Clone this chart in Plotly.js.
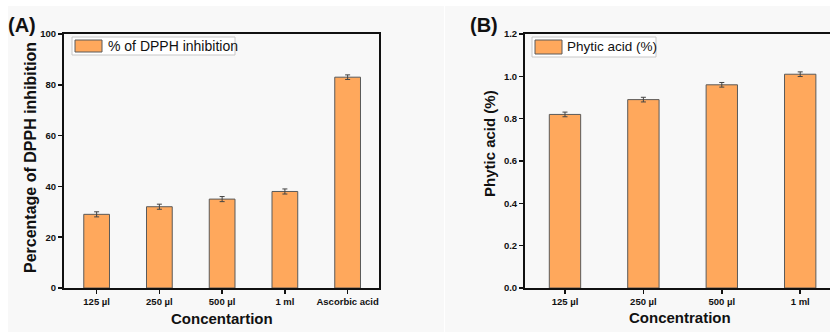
<!DOCTYPE html>
<html>
<head>
<meta charset="utf-8">
<script src="https://cdn.plot.ly/plotly-3.0.1.min.js"></script>
<style>html,body{margin:0;padding:0;background:#fff;}#chart{width:830px;height:332px;}</style>
</head>
<body>
<div id="chart"></div>
<script>
// ---- data ----
const catsA = ["125 µl", "250 µl", "500 µl", "1 ml", "Ascorbic acid"];
const valsA = [29, 32, 35, 38, 83];
const errA = [1, 1, 1, 1, 0.9];
const catsB = ["125 µl", "250 µl", "500 µl", "1 ml"];
const valsB = [0.82, 0.89, 0.96, 1.01];
const errB = [0.011, 0.011, 0.011, 0.011];
const ticksA = [0, 20, 40, 60, 80, 100];
const ticksB = [0, 0.2, 0.4, 0.6, 0.8, 1.0, 1.2];
const ticksBText = ["0.0", "0.2", "0.4", "0.6", "0.8", "1.0", "1.2"];

const W = 830, H = 332;
const px = x => x / W;
const py = y => 1 - y / H;

const barColor = "#ffa85c";
const edge = "#5a5a5a";
const font = "Liberation Sans, Arial, sans-serif";

const traceA = {
  type: "bar", x: catsA, y: valsA, xaxis: "x", yaxis: "y",
  width: 0.41,
  marker: {color: barColor, line: {color: edge, width: 1}},
  error_y: {type: "data", array: errA, visible: true, color: "#444", thickness: 1, width: 2.5},
  showlegend: false, hoverinfo: "none"
};
const traceB = {
  type: "bar", x: catsB, y: valsB, xaxis: "x2", yaxis: "y2",
  width: 0.40,
  marker: {color: barColor, line: {color: edge, width: 1}},
  error_y: {type: "data", array: errB, visible: true, color: "#444", thickness: 1, width: 2.5},
  showlegend: false, hoverinfo: "none"
};

const tickFont = {family: font, size: 9.5, color: "#111", weight: "bold"};
const axCommon = {
  showline: true, linecolor: "#111", linewidth: 2,
  ticks: "outside", ticklen: 4, tickwidth: 1.5, tickcolor: "#111",
  showgrid: false, zeroline: false, tickfont: tickFont, fixedrange: true
};

const layout = {
  width: W, height: H,
  margin: {l: 0, r: 0, t: 0, b: 0},
  paper_bgcolor: "#ffffff",
  plot_bgcolor: "rgba(0,0,0,0)",
  xaxis: Object.assign({}, axCommon, {
    domain: [px(64), px(379)], anchor: "y", type: "category",
    range: [-0.52, 4.5], mirror: true
  }),
  yaxis: Object.assign({}, axCommon, {
    domain: [py(288), py(34)], anchor: "x",
    range: [0, 100], tickvals: ticksA, mirror: true
  }),
  xaxis2: Object.assign({}, axCommon, {
    domain: [px(525), 1], anchor: "y2", type: "category",
    range: [-0.51, 3.38], mirror: true
  }),
  yaxis2: Object.assign({}, axCommon, {
    domain: [py(288), py(34)], anchor: "x2",
    range: [0, 1.2], tickvals: ticksB, ticktext: ticksBText, mirror: false
  }),
  shapes: [
    {type: "rect", xref: "paper", yref: "paper", x0: px(8), x1: px(444), y0: 0, y1: py(6),
     fillcolor: "#f8f8f8", line: {width: 0}, layer: "below"},
    {type: "rect", xref: "paper", yref: "paper", x0: px(445), x1: 1, y0: 0, y1: py(6),
     fillcolor: "#f8f8f8", line: {width: 0}, layer: "below"},
    // legend A
    {type: "rect", xref: "paper", yref: "paper", x0: px(72), x1: px(235), y0: py(55), y1: py(37),
     fillcolor: "#ffffff", line: {color: "#c8c8c8", width: 1}},
    {type: "rect", xref: "paper", yref: "paper", x0: px(75), x1: px(102), y0: py(52), y1: py(40),
     fillcolor: barColor, line: {color: edge, width: 1}},
    // legend B
    {type: "rect", xref: "paper", yref: "paper", x0: px(532), x1: px(656), y0: py(57), y1: py(37),
     fillcolor: "#ffffff", line: {color: "#c8c8c8", width: 1}},
    {type: "rect", xref: "paper", yref: "paper", x0: px(535), x1: px(562), y0: py(54), y1: py(40),
     fillcolor: barColor, line: {color: edge, width: 1}}
  ],
  annotations: [
    {text: "(A)", xref: "paper", yref: "paper", x: px(21.5), y: py(25.5), showarrow: false,
     xanchor: "center", yanchor: "middle", font: {family: font, size: 20, color: "#111", weight: "bold"}},
    {text: "(B)", xref: "paper", yref: "paper", x: px(484), y: py(25.5), showarrow: false,
     xanchor: "center", yanchor: "middle", font: {family: font, size: 20, color: "#111", weight: "bold"}},
    {text: "% of DPPH inhibition", xref: "paper", yref: "paper", x: px(106), y: py(46), showarrow: false,
     xanchor: "left", yanchor: "middle", font: {family: font, size: 14, color: "#111"}},
    {text: "Phytic acid (%)", xref: "paper", yref: "paper", x: px(565), y: py(47), showarrow: false,
     xanchor: "left", yanchor: "middle", font: {family: font, size: 13.5, color: "#111"}},
    {text: "Percentage of DPPH inhibition", xref: "paper", yref: "paper", x: px(31), y: py(158), showarrow: false,
     textangle: -90, xanchor: "center", yanchor: "middle", font: {family: font, size: 16, color: "#111", weight: "bold"}},
    {text: "Phytic acid (%)", xref: "paper", yref: "paper", x: px(489), y: py(144), showarrow: false,
     textangle: -90, xanchor: "center", yanchor: "middle", font: {family: font, size: 15, color: "#111", weight: "bold"}},
    {text: "Concentartion", xref: "paper", yref: "paper", x: px(222), y: py(318), showarrow: false,
     xanchor: "center", yanchor: "middle", font: {family: font, size: 15, color: "#111", weight: "bold"}},
    {text: "Concentration", xref: "paper", yref: "paper", x: px(680), y: py(317), showarrow: false,
     xanchor: "center", yanchor: "middle", font: {family: font, size: 15, color: "#111", weight: "bold"}}
  ]
};

Plotly.newPlot("chart", [traceA, traceB], layout, {displayModeBar: false, staticPlot: true});
</script>
</body>
</html>
